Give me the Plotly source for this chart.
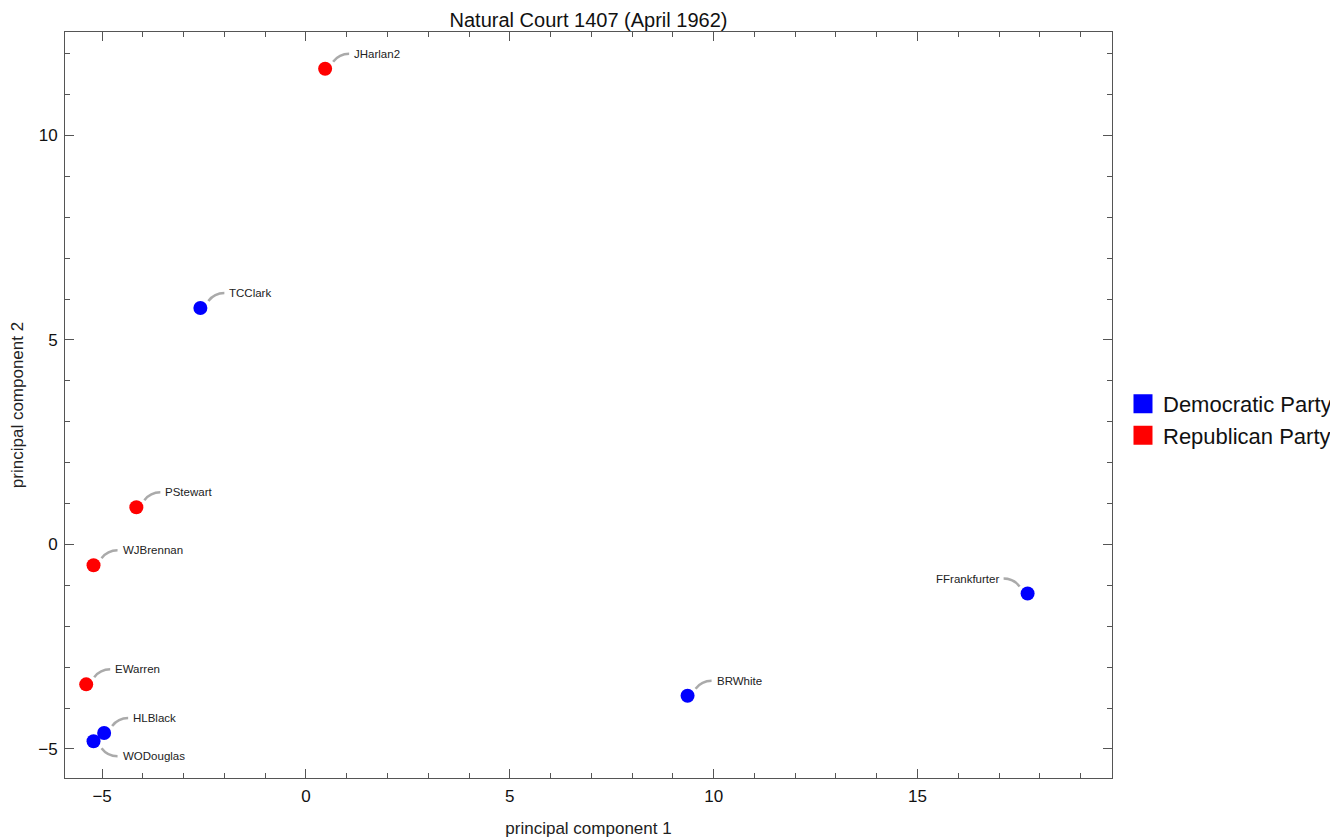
import plotly.graph_objects as go

# ---- data ----
justices = ["JHarlan2", "TCClark", "PStewart", "WJBrennan", "EWarren",
            "HLBlack", "WODouglas", "BRWhite", "FFrankfurter"]
pc1 = [0.47, -2.59, -4.16, -5.21, -5.39, -4.95, -5.21, 9.36, 17.70]
pc2 = [11.63, 5.78, 0.91, -0.51, -3.42, -4.61, -4.81, -3.70, -1.20]
party = ["Republican Party", "Democratic Party", "Republican Party", "Republican Party",
         "Republican Party", "Democratic Party", "Democratic Party", "Democratic Party",
         "Democratic Party"]
parties = ["Democratic Party", "Republican Party"]
title = "Natural Court 1407 (April 1962)"

# ---- style ----
colors = {"Democratic Party": "#0000FF", "Republican Party": "#FF0000"}
# label direction: (horizontal sign, vertical sign) in screen terms (+1 right / +1 up)
label_dir = {"FFrankfurter": (-1, 1), "WODouglas": (1, -1)}

# page body has an 8px margin; the figure is sized to fit the 1338x840 window
W, H = 1330, 832
ml, mr, mt, mb = 57, 226, 24, 62
xr = [-5.91, 19.77]
yr = [-5.71, 12.53]
pw, ph = W - ml - mr, H - mt - mb
sx = (xr[1] - xr[0]) / pw  # data units per px
sy = (yr[1] - yr[0]) / ph

fig = go.Figure()
for p in parties:
    xs = [x for x, q in zip(pc1, party) if q == p]
    ys = [y for y, q in zip(pc2, party) if q == p]
    fig.add_trace(go.Scatter(x=xs, y=ys, mode="markers", showlegend=False,
                             marker=dict(color=colors[p], size=14, line=dict(width=0)),
                             hoverinfo="skip"))
for p in parties:
    fig.add_trace(go.Scatter(x=[None], y=[None], mode="markers", name=p,
                             marker=dict(color=colors[p], size=16, symbol="square",
                                         line=dict(width=3, color=colors[p]))))

shapes, annos = [], []
for name, x, y in zip(justices, pc1, pc2):
    hs, vs = label_dir.get(name, (1, 1))
    x0, y0 = x + hs * 8 * sx, y + vs * 7 * sy
    cx, cy = x + hs * 14 * sx, y + vs * 15 * sy
    x2, y2 = x + hs * 24 * sx, y + vs * 15 * sy
    shapes.append(dict(type="path", xref="x", yref="y",
                       path=f"M {x0},{y0} Q {cx},{cy} {x2},{y2}",
                       line=dict(color="#AAAAAA", width=2.5)))
    annos.append(dict(x=x, y=y, xref="x", yref="y", text=name, showarrow=False,
                      xanchor="left" if hs > 0 else "right", yanchor="middle",
                      xshift=hs * 27, yshift=vs * 15,
                      font=dict(family="Liberation Sans, Arial", size=11.5, color="#222222")))

axis_common = dict(showgrid=False, zeroline=False, showline=True, linecolor="#555555",
                   linewidth=1, mirror="ticks", ticks="inside", ticklen=9, tickwidth=1,
                   tickcolor="#555555", tickfont=dict(size=17, color="#111111"),
                   ticklabelstandoff=3, automargin=False,
                   minor=dict(ticks="inside", ticklen=5, tickwidth=1, tickcolor="#555555", dtick=1),
                   title_font=dict(size=17, color="#222222"))

fig.update_layout(
    width=W, height=H, margin=dict(l=ml, r=mr, t=mt, b=mb, autoexpand=False),
    plot_bgcolor="white", paper_bgcolor="white",
    font=dict(family="Liberation Sans, Arial"),
    title=dict(text=title, x=(ml + pw / 2) / W, xanchor="center", y=1 - 12 / H,
               yanchor="middle", font=dict(size=20, color="#111111"), automargin=False),
    xaxis=dict(range=xr, dtick=5, tick0=0, title=dict(text="principal component 1", standoff=16),
               **axis_common),
    yaxis=dict(range=yr, dtick=5, tick0=0, title=dict(text="principal component 2", standoff=17),
               **axis_common),
    legend=dict(x=1.0105, y=0.48, xanchor="left", yanchor="middle",
                font=dict(size=22, color="#111111"), itemwidth=30, tracegroupgap=0,
                bgcolor="rgba(0,0,0,0)"),
    shapes=shapes, annotations=annos, showlegend=True,
)

fig.write_html("out.html")
